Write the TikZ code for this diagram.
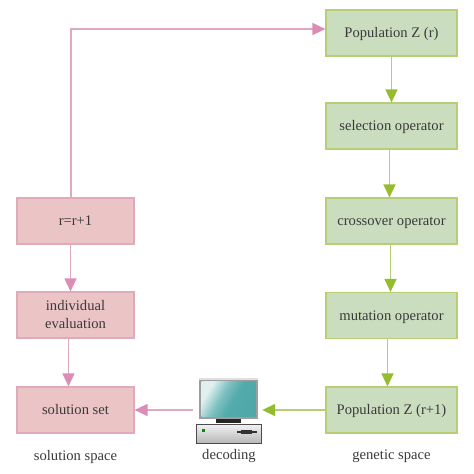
\documentclass[tikz,border=0pt]{standalone}
\usepackage{fontspec}
\setmainfont{Liberation Serif}
\usetikzlibrary{arrows.meta,calc}
\definecolor{gfill}{HTML}{CBDDBF}
\definecolor{gline}{HTML}{B5CF72}
\definecolor{garrow}{HTML}{95BB2E}
\definecolor{rfill}{HTML}{EBC4C6}
\definecolor{rline}{HTML}{E0A9BC}
\definecolor{rarrow}{HTML}{DB8DB6}
\definecolor{ink}{HTML}{3A3A3A}
\pgfdeclarehorizontalshading{screenshade}{100bp}{
  rgb(0bp)=(0.88,0.94,0.94); rgb(27bp)=(0.88,0.94,0.94); rgb(42bp)=(0.50,0.76,0.76);
  rgb(55bp)=(0.33,0.67,0.67); rgb(100bp)=(0.30,0.64,0.65)}
\tikzset{
  box/.style={draw,line width=1.2pt,align=center,text=ink,font=\fontsize{14.6}{18}\selectfont,inner sep=0pt,minimum height=46pt,text height=10.5pt,text depth=1.5pt},
  gbox/.style={box,fill=gfill,draw=gline,minimum width=131pt},
  rbox/.style={box,fill=rfill,draw=rline,minimum width=117pt},
  caption/.style={text=ink,font=\fontsize{14.6}{15}\selectfont,inner sep=0pt},
  garr/.style={draw=gline,line width=1.5pt,-{Triangle[length=13pt,width=12pt,color=garrow]}},
  rarr/.style={draw=rline,line width=1.5pt,-{Triangle[length=13pt,width=12pt,color=rarrow]}}
}
\begin{document}
\begin{tikzpicture}[x=1pt,y=-1pt]
\useasboundingbox (0,0) rectangle (474,474);
\node[gbox] (pz) at (391.5,33) {Population Z (r)};
\node[gbox] (sel) at (391.5,126) {selection operator};
\node[gbox] (cro) at (391.5,221) {crossover operator};
\node[gbox] (mut) at (391.5,315.5) {mutation operator};
\node[gbox] (pz1) at (391.5,410) {Population Z (r+1)};
\node[rbox] (inc) at (75.5,221) {r=r+1};
\node[rbox,text height=28.5pt] (eva) at (75.5,315) {individual\\evaluation};
\node[rbox] (sol) at (75.5,410) {solution set};
\node[caption] (c1) at (75.5,456.5) {solution space};
\node[caption] (c2) at (229,456.5) {decoding};
\node[caption] (c3) at (391.5,456.5) {genetic space};
% computer
\node[minimum width=66pt,minimum height=65pt,inner sep=0pt] (pc) at (229,410) {};
\fill[black!38] (199,378) rectangle (258,419);
\fill[black!12] (199,378) rectangle (258,380);
\shade[shading=screenshade,shading angle=-30] (201.5,381) rectangle (255.5,416);
\fill[black!85] (216,419) rectangle (241,423);
\draw[black!70,line width=0.7pt,top color=black!5,bottom color=black!28] (196.5,424) rectangle (261.5,443);
\fill[green!55!black] (201.5,428.5) rectangle (204.5,431.5);
\fill[black!80] (237,431) rectangle (257,432.6);
\fill[black!80] (241,430) rectangle (252,433.6);
% connectors
\coordinate (bend) at (71,29);
\draw[rarr] (inc.north -| bend) -- (bend) -- (pz.west |- bend);
\draw[garr] (pz.south) -- (sel.north);
\draw[garr] ($(sel.south)+(-2,0)$) -- ($(cro.north)+(-2,0)$);
\draw[garr] ($(cro.south)+(-1,0)$) -- ($(mut.north)+(-1,0)$);
\draw[garr] ($(mut.south)+(-4,0)$) -- ($(pz1.north)+(-4,0)$);
\draw[rarr] ($(inc.south)+(-5,0)$) -- ($(eva.north)+(-5,0)$);
\draw[rarr] ($(eva.south)+(-7,0)$) -- ($(sol.north)+(-7,0)$);
\draw[garr] (pz1.west) -- (pc.east |- pz1.west);
\draw[rarr] ($(pc.west)+(-3,0)$) -- (sol.east);
\end{tikzpicture}
\end{document}
